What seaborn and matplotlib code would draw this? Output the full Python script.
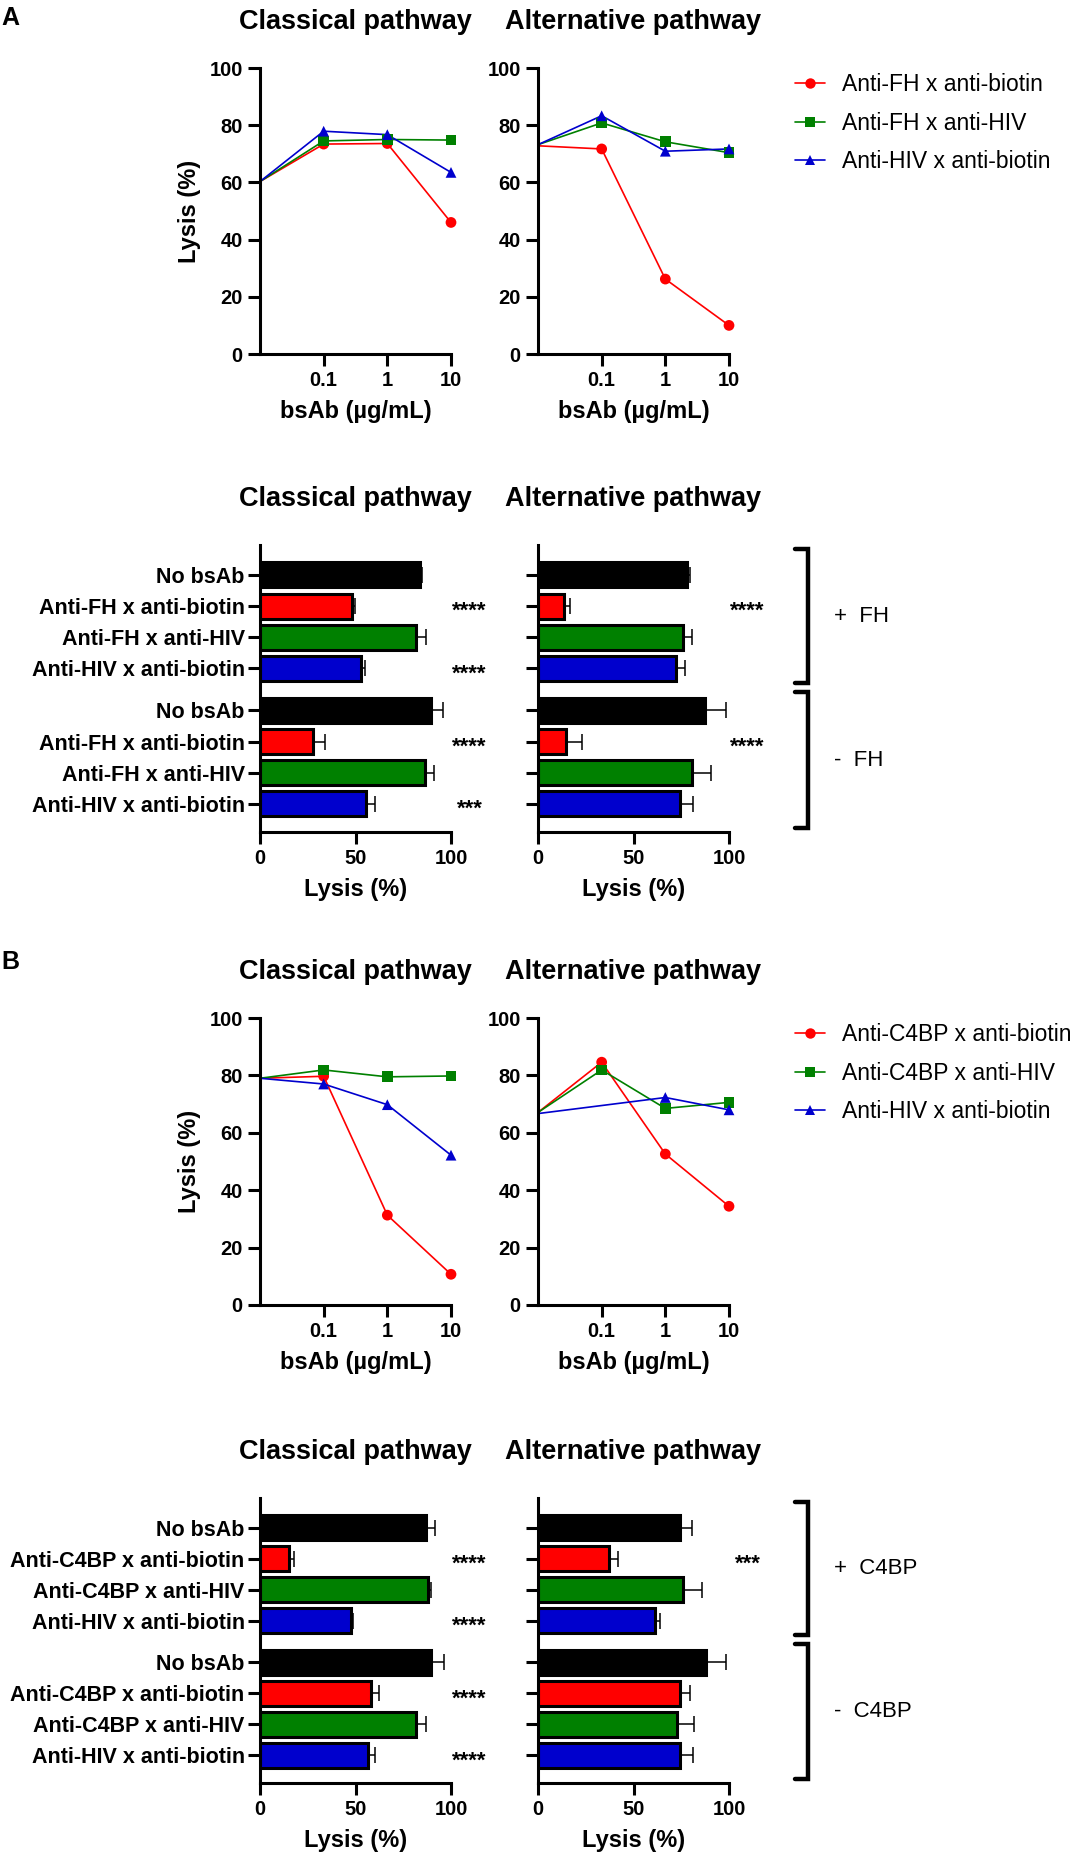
import numpy as np
import pandas as pd
import seaborn as sns
import matplotlib.pyplot as plt
import matplotlib.transforms as mtransforms
from matplotlib.lines import Line2D
from matplotlib.ticker import NullLocator

# ---------------- data ----------------
# bsAb concentration (first point = no bsAb, drawn on the y axis)
conc = [0.01, 0.1, 1, 10]
conc_ticks = [0.1, 1, 10]
conc_ticklabels = ['0.1', '1', '10']

names_a = ['Anti-FH x anti-biotin', 'Anti-FH x anti-HIV', 'Anti-HIV x anti-biotin']
names_b = ['Anti-C4BP x anti-biotin', 'Anti-C4BP x anti-HIV', 'Anti-HIV x anti-biotin']

# panel A, dose response
a_cp_fh_biotin = [60.3, 73.4, 73.6, 46.0]
a_cp_fh_hiv = [60.3, 74.5, 75.0, 74.8]
a_cp_hiv_biotin = [60.3, 77.9, 76.7, 63.5]
a_ap_fh_biotin = [72.8, 71.7, 26.2, 10.0]
a_ap_fh_hiv = [73.2, 80.8, 74.2, 70.4]
a_ap_hiv_biotin = [73.2, 83.3, 70.9, 71.7]

# panel B, dose response
b_cp_c4bp_biotin = [79.0, 79.7, 31.3, 10.7]
b_cp_c4bp_hiv = [79.0, 81.9, 79.5, 79.8]
b_cp_hiv_biotin = [79.0, 77.0, 69.8, 52.2]
b_ap_c4bp_biotin = [67.1, 84.6, 52.6, 34.4]
b_ap_c4bp_hiv = [67.1, 81.9, 68.5, 70.6]
b_ap_hiv_biotin = [66.7, np.nan, 72.3, 68.0]

# bar charts (+ group first, then - group)
bars_a = ['No bsAb', 'Anti-FH x anti-biotin', 'Anti-FH x anti-HIV', 'Anti-HIV x anti-biotin']
bars_b = ['No bsAb', 'Anti-C4BP x anti-biotin', 'Anti-C4BP x anti-HIV', 'Anti-HIV x anti-biotin']
groups_a = ['+  FH', '-  FH']
groups_b = ['+  C4BP', '-  C4BP']

a_cp_mean = [83.6, 48.2, 81.9, 53.1, 89.7, 28.0, 86.2, 55.6]
a_cp_err = [1.0, 1.5, 5.0, 2.0, 6.1, 6.1, 4.9, 4.4]
a_cp_stars = ['', '****', '', '****', '', '****', '', '***']
a_ap_mean = [77.8, 13.5, 76.0, 72.5, 87.4, 14.9, 80.4, 74.3]
a_ap_err = [1.7, 3.1, 4.4, 4.4, 11.0, 7.9, 10.1, 6.6]
a_ap_stars = ['', '****', '', '', '', '****', '', '']

b_cp_mean = [86.7, 15.0, 87.8, 47.6, 89.6, 58.0, 81.9, 56.4]
b_cp_err = [5.0, 3.0, 1.5, 1.0, 6.6, 4.4, 4.9, 3.8]
b_cp_stars = ['', '****', '', '****', '', '****', '', '****']
b_ap_mean = [74.6, 37.0, 76.1, 61.5, 88.0, 74.1, 73.0, 74.3]
b_ap_err = [5.9, 5.0, 9.8, 2.2, 10.4, 5.7, 8.7, 6.7]
b_ap_stars = ['', '***', '', '', '', '', '', '']

# ---------------- style ----------------
RED, GREEN, BLUE = '#FF0000', '#008000', '#0000CD'
line_colors = [RED, GREEN, BLUE]
line_markers = ['o', 's', '^']
bar_colors = ['black', RED, GREEN, BLUE]

sns.set_style('ticks')
plt.rcParams['font.family'] = ['Liberation Sans', 'DejaVu Sans']
plt.rcParams['font.weight'] = 'bold'
plt.rcParams['axes.linewidth'] = 2.2
for key in ['text.color', 'axes.labelcolor', 'axes.edgecolor', 'xtick.color', 'ytick.color']:
    plt.rcParams[key] = 'black'

W, H = 1075, 1857
fig = plt.figure(figsize=(W / 100, H / 100), dpi=100)


def box(x0, x1, y0, y1):
    return [x0 / W, 1 - y1 / H, (x1 - x0) / W, (y1 - y0) / H]


def title(ax, text):
    h = ax.get_position().height * H
    ax.text(0.5, 1 + 46 / h, text, transform=ax.transAxes, ha='center',
            va='center', fontsize=19.5, fontweight='bold')


def line_panel(ax, series, names, ylabel):
    df = pd.DataFrame({'conc': np.tile(conc, 3),
                       'lysis': np.concatenate(series),
                       'group': np.repeat(names, len(conc))}).dropna()
    pal = dict(zip(names, line_colors))
    ax.set_xscale('log')
    sns.lineplot(data=df, x='conc', y='lysis', hue='group', hue_order=names,
                 palette=pal, estimator=None, lw=1.2, legend=False, ax=ax)
    for ln in ax.lines:
        ln.set_clip_on(False)
    pts = df[df['conc'] > conc[0]]
    sns.scatterplot(data=pts, x='conc', y='lysis', hue='group', style='group',
                    hue_order=names, style_order=names, palette=pal,
                    markers=dict(zip(names, line_markers)), s=60, linewidth=0,
                    legend=False, ax=ax, clip_on=False, zorder=3)
    ax.set_xlim(conc[0], conc[-1])
    ax.set_ylim(0, 100)
    ax.set_xticks(conc_ticks, conc_ticklabels)
    ax.xaxis.set_minor_locator(NullLocator())
    ax.set_yticks(range(0, 101, 20))
    ax.tick_params(axis='both', length=8.5, width=2.2, labelsize=14.5, pad=4)
    ax.set_xlabel('bsAb (µg/mL)', fontsize=17, fontweight='bold', labelpad=7)
    if ylabel:
        ax.set_ylabel('Lysis (%)', fontsize=17, fontweight='bold', labelpad=6)
    else:
        ax.set_ylabel('')
    sns.despine(ax=ax)


bar_pos = np.r_[np.arange(4), np.arange(4) + 4.35]


def bar_panel(ax, means, errs, stars, labels, show_labels):
    cond = labels * 2
    df = pd.DataFrame({'lysis': means, 'pos': bar_pos, 'cond': cond})
    sns.barplot(data=df, x='lysis', y='pos', hue='cond', hue_order=labels,
                palette=dict(zip(labels, bar_colors)), orient='h',
                native_scale=True, dodge=False, width=0.8, errorbar=None,
                saturation=1, edgecolor='black', linewidth=2.2, legend=False,
                ax=ax, zorder=2)
    ax.errorbar(means, bar_pos, xerr=[np.zeros(len(means)), errs], fmt='none',
                ecolor='black', elinewidth=1.1, capsize=5.5, capthick=1.1,
                zorder=1)
    trans = mtransforms.blended_transform_factory(ax.transAxes, ax.transData)
    for p, s in zip(bar_pos, stars):
        if s:
            ax.text(1.097, p + 0.18, s, transform=trans, ha='center',
                    va='center', fontsize=16, fontweight='bold')
    ax.set_xlim(0, 100)
    ax.set_ylim(8.25, -0.96)
    ax.set_xticks([0, 50, 100])
    ax.set_yticks(bar_pos, cond if show_labels else [''] * len(cond))
    ax.tick_params(axis='both', length=8.5, width=2.2, labelsize=14.5, pad=4)
    ax.tick_params(axis='y', labelsize=15.5, pad=2.5)
    ax.set_xlabel('Lysis (%)', fontsize=17, fontweight='bold', labelpad=7)
    ax.set_ylabel('')
    sns.despine(ax=ax)


def brackets(ax, group_names):
    trans = mtransforms.blended_transform_factory(ax.transAxes, ax.transData)
    spans = [(-0.83, 3.48), (3.76, 8.12)]
    for (y0, y1), g in zip(spans, group_names):
        ax.plot([1.346, 1.414, 1.414, 1.346], [y0, y0, y1, y1], transform=trans,
                color='black', lw=3.2, clip_on=False, solid_joinstyle='miter')
        ax.text(1.55, (y0 + y1) / 2, g, transform=trans, ha='left', va='center',
                fontsize=16, fontweight='normal')


def legend(ax, names, top):
    handles = [Line2D([], [], color=c, marker=m, markersize=7.5, lw=1.2,
                      markeredgewidth=0) for c, m in zip(line_colors, line_markers)]
    ax.legend(handles, names, loc='upper left', bbox_to_anchor=(795 / W, 1 - top / H),
              bbox_transform=fig.transFigure, frameon=False, borderpad=0,
              borderaxespad=0, handlelength=1.3, handletextpad=0.75,
              labelspacing=0.68, prop={'size': 16.5, 'weight': 'normal'})


# ---------------- panel A ----------------
ax1 = fig.add_axes(box(260, 451, 68, 354))
ax2 = fig.add_axes(box(538, 729, 68, 354))
line_panel(ax1, [a_cp_fh_biotin, a_cp_fh_hiv, a_cp_hiv_biotin], names_a, True)
line_panel(ax2, [a_ap_fh_biotin, a_ap_fh_hiv, a_ap_hiv_biotin], names_a, False)
legend(ax2, names_a, 73)
title(ax1, 'Classical pathway')
title(ax2, 'Alternative pathway')

ax3 = fig.add_axes(box(260, 451, 545, 832))
ax4 = fig.add_axes(box(538, 729, 545, 832))
bar_panel(ax3, a_cp_mean, a_cp_err, a_cp_stars, bars_a, True)
bar_panel(ax4, a_ap_mean, a_ap_err, a_ap_stars, bars_a, False)
brackets(ax4, groups_a)
title(ax3, 'Classical pathway')
title(ax4, 'Alternative pathway')

# ---------------- panel B ----------------
ax5 = fig.add_axes(box(260, 451, 1018, 1305))
ax6 = fig.add_axes(box(538, 729, 1018, 1305))
line_panel(ax5, [b_cp_c4bp_biotin, b_cp_c4bp_hiv, b_cp_hiv_biotin], names_b, True)
line_panel(ax6, [b_ap_c4bp_biotin, b_ap_c4bp_hiv, b_ap_hiv_biotin], names_b, False)
legend(ax6, names_b, 1023)
title(ax5, 'Classical pathway')
title(ax6, 'Alternative pathway')

ax7 = fig.add_axes(box(260, 451, 1498, 1783))
ax8 = fig.add_axes(box(538, 729, 1498, 1783))
bar_panel(ax7, b_cp_mean, b_cp_err, b_cp_stars, bars_b, True)
bar_panel(ax8, b_ap_mean, b_ap_err, b_ap_stars, bars_b, False)
brackets(ax8, groups_b)
title(ax7, 'Classical pathway')
title(ax8, 'Alternative pathway')

fig.text(10 / W, 1 - 18 / H, 'A', fontsize=18, fontweight='bold', ha='center', va='center')
fig.text(10 / W, 1 - 962 / H, 'B', fontsize=18, fontweight='bold', ha='center', va='center')

fig.savefig('out.png', dpi=100)
